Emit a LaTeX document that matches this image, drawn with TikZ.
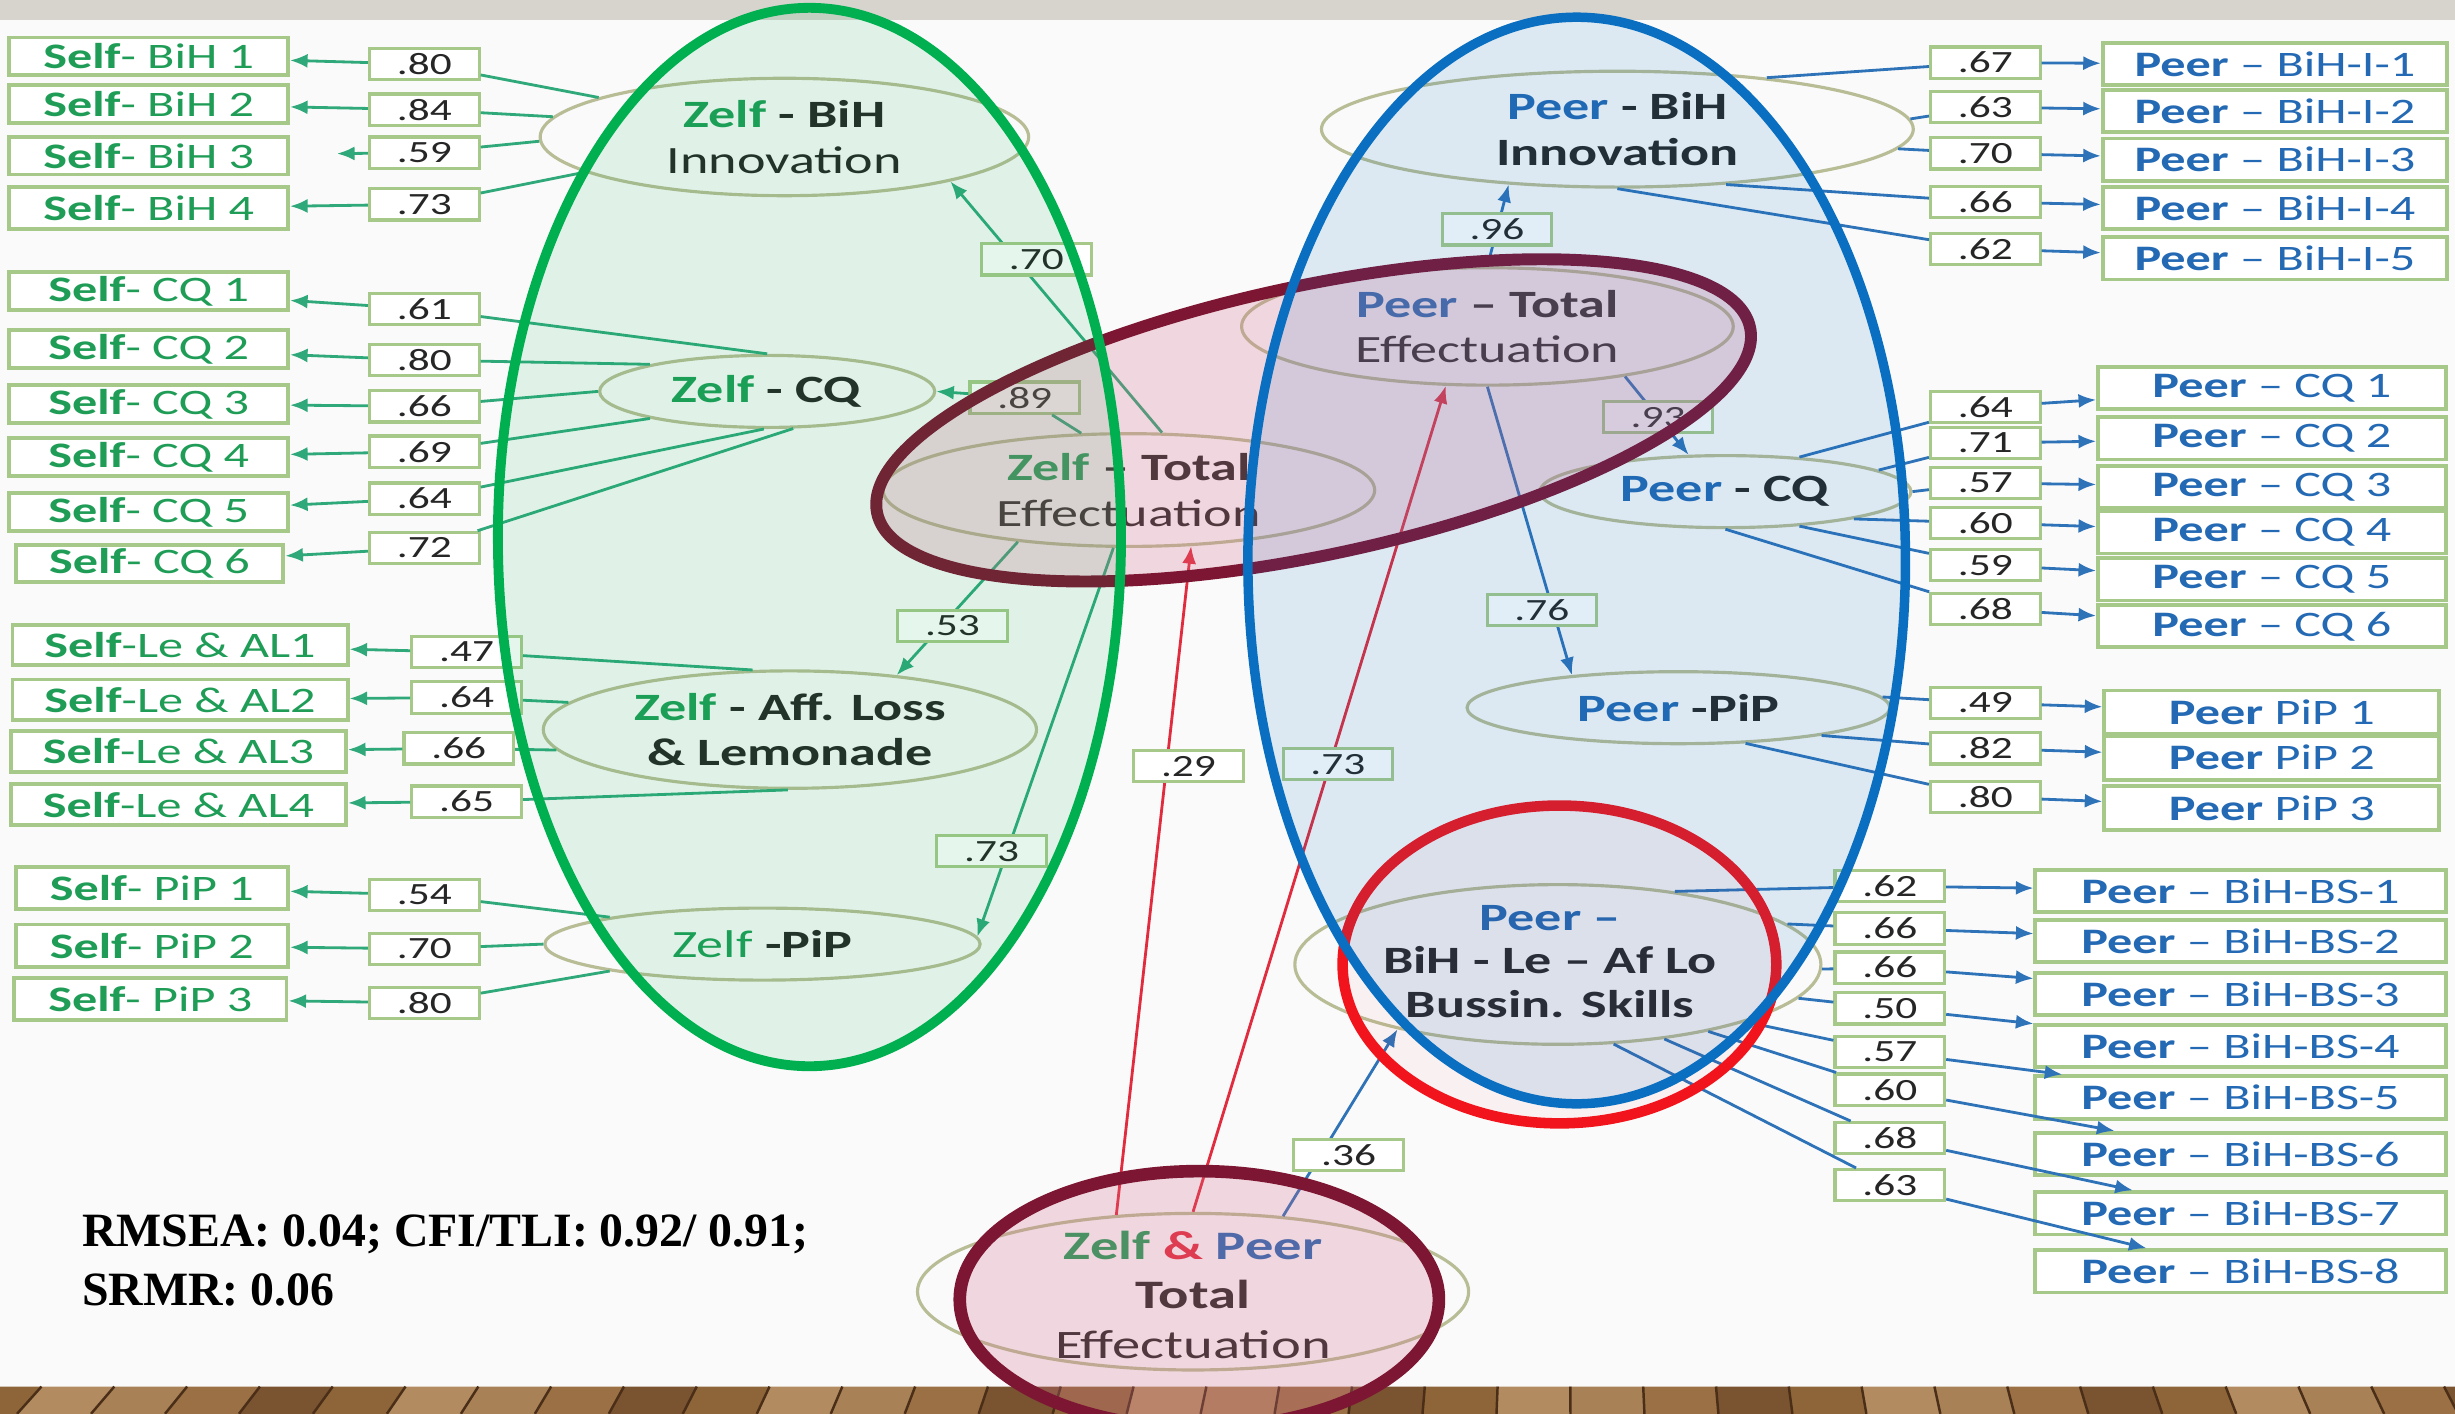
\documentclass[tikz,border=0pt]{standalone}
\usepackage{fontspec}
\setmainfont{Carlito}[FakeStretch=1.4]
\newfontfamily\fitfont{Liberation Serif}
\usetikzlibrary{shapes.geometric,arrows.meta}
\definecolor{zg}{HTML}{1F9D57}
\definecolor{pb}{HTML}{2469B3}
\definecolor{gl}{HTML}{2FA87A}
\definecolor{bl}{HTML}{2E72B8}
\definecolor{rl}{HTML}{E02C3E}
\definecolor{bx}{HTML}{A6C98A}
\definecolor{el}{HTML}{B8BD95}
\definecolor{dk}{HTML}{262626}
\definecolor{dred}{HTML}{7D1633}
\definecolor{bred}{HTML}{F2141C}
\definecolor{ovg}{HTML}{00B050}
\definecolor{ovb}{HTML}{0A6FC0}
\definecolor{pinkf}{HTML}{D56E8C}
\definecolor{bgc}{HTML}{FAFAFA}
\definecolor{band}{HTML}{D7D4CE}
\definecolor{wood0}{HTML}{8E6538}
\definecolor{wood1}{HTML}{A88156}
\definecolor{wood2}{HTML}{7A5330}
\definecolor{wood3}{HTML}{B28C60}
\definecolor{wood4}{HTML}{9A7044}
\definecolor{wooddk}{HTML}{4A2E18}
\newcommand{\pxu}{0.015657cm}
\newcommand{\selfl}[1]{\textcolor{zg}{\textbf{Self}-#1}}
\newcommand{\peerl}[1]{\textcolor{pb}{\textbf{Peer}#1}}
\begin{document}
\begin{tikzpicture}[x=0.015657cm,y=-0.015657cm,
 ind/.style={draw=bx,line width=1.1pt,fill=white,inner sep=0pt,minimum height=24*\pxu,font=\fontsize{10.2}{12}\selectfont},
 val/.style={draw=bx,line width=0.9pt,fill=white,inner sep=0pt,minimum width=70*\pxu,minimum height=20*\pxu,font=\fontsize{8.8}{10}\selectfont,text=dk},
 lat/.style={ellipse,draw=el,line width=0.9pt,fill=bgc,inner sep=0pt},
 ltx/.style={align=center,inner sep=0pt,font=\fontsize{11}{13}\selectfont,text=dk},
 garr/.style={draw=gl,line width=0.8pt,-{Latex[length=5pt,width=4pt]}},
 barr/.style={draw=bl,line width=0.8pt,-{Latex[length=5pt,width=4pt]}},
 rarr/.style={draw=rl,line width=0.8pt,-{Latex[length=5pt,width=4pt]}}
]
\useasboundingbox (0,0) rectangle (1568,903);
\clip (0,0) rectangle (1568,903);
\fill[bgc] (0,0) rectangle (1568,903);
\fill[band] (0,0) rectangle (1568,13);
% wooden floor
\fill[wood0] (0,885.6) rectangle (1568,903);
\foreach \i in {0,...,35} {
  \pgfmathsetmacro\xa{-20+46.5*\i}
  \pgfmathsetmacro\xb{\xa+46.5}
  \pgfmathsetmacro\xc{\xa+(\xa-1000)/1085*17.4}
  \pgfmathsetmacro\xd{\xb+(\xb-1000)/1085*17.4}
  \pgfmathtruncatemacro\k{mod(\i*3,5)}
  \fill[wood\k] (\xa,885.6) -- (\xb,885.6) -- (\xd,903) -- (\xc,903) -- cycle;
  \draw[wooddk,line width=0.7pt] (\xa,885.6) -- (\xc,903);
}

% latent variables
\node[lat,minimum width=312*\pxu,minimum height=75*\pxu] (zbih) at (501,87.5) {};
\node[lat,minimum width=214*\pxu,minimum height=46*\pxu] (zcq) at (490,250) {};
\node[lat,minimum width=314*\pxu,minimum height=72*\pxu] (ztot) at (721,313) {};
\node[lat,minimum width=315*\pxu,minimum height=75*\pxu] (zaff) at (504.5,466) {};
\node[lat,minimum width=278*\pxu,minimum height=46*\pxu] (zpip) at (487,603) {};
\node[lat,minimum width=378*\pxu,minimum height=74*\pxu] (pbih) at (1033,82.5) {};
\node[lat,minimum width=314*\pxu,minimum height=75*\pxu] (ptot) at (950,208.5) {};
\node[lat,minimum width=237*\pxu,minimum height=46*\pxu] (pcq) at (1102,314) {};
\node[lat,minimum width=270*\pxu,minimum height=46*\pxu] (ppip) at (1072,452) {};
\node[lat,minimum width=336*\pxu,minimum height=102*\pxu] (pbs) at (995,616) {};
\node[lat,minimum width=352*\pxu,minimum height=100*\pxu] (zp) at (762,825) {};

\node[ltx] (zbiht) at (zbih) {\textbf{\textcolor{zg}{Zelf} - BiH}\\Innovation};
\node[ltx] (zcqt) at (zcq) {\textbf{\textcolor{zg}{Zelf} - CQ}};
\node[ltx] (ztott) at (ztot) {\textbf{\textcolor{zg}{Zelf} -- Total}\\Effectuation};
\node[ltx] (zafft) at (zaff) {\textbf{\textcolor{zg}{Zelf} - Aff. Loss}\\\textbf{\& Lemonade}};
\node[ltx] (zpipt) at (zpip) {\textcolor{zg}{Zelf} \textbf{-PiP}};
\node[ltx] (pbiht) at (pbih) {\textbf{\textcolor{pb}{Peer} - BiH}\\\textbf{Innovation}};
\node[ltx] (ptott) at (ptot) {\textbf{\textcolor{pb}{Peer} -- Total}\\Effectuation};
\node[ltx] (pcqt) at (pcq) {\textbf{\textcolor{pb}{Peer} - CQ}};
\node[ltx] (ppipt) at (ppip) {\textbf{\textcolor{pb}{Peer} -PiP}};
\node[ltx,font=\fontsize{11}{12.4}\selectfont] (pbst) at (990,614) {\textbf{\textcolor{pb}{Peer --}}\\\textbf{BiH - Le -- Af Lo}\\\textbf{Bussin. Skills}};
\node[ltx,font=\fontsize{11.5}{14}\selectfont] (zpt) at (762,827) {\textbf{\textcolor{zg}{Zelf} \textcolor{rl}{\&} \textcolor{pb}{Peer}}\\\textbf{Total}\\Effectuation};

% left indicators
\node[ind,minimum width=178*\pxu] (sb1) at (95,36) {\selfl{ BiH 1}};
\node[ind,minimum width=178*\pxu] (sb2) at (95,66.5) {\selfl{ BiH 2}};
\node[ind,minimum width=178*\pxu] (sb3) at (95,99.5) {\selfl{ BiH 3}};
\node[ind,minimum width=178*\pxu,minimum height=27*\pxu] (sb4) at (95,133) {\selfl{ BiH 4}};
\node[ind,minimum width=178*\pxu] (sc1) at (95,186) {\selfl{ CQ 1}};
\node[ind,minimum width=178*\pxu] (sc2) at (95,223) {\selfl{ CQ 2}};
\node[ind,minimum width=178*\pxu] (sc3) at (95,258) {\selfl{ CQ 3}};
\node[ind,minimum width=178*\pxu] (sc4) at (95,292) {\selfl{ CQ 4}};
\node[ind,minimum width=178*\pxu] (sc5) at (95,327) {\selfl{ CQ 5}};
\node[ind,minimum width=171*\pxu] (sc6) at (95.5,360) {\selfl{ CQ 6}};
\node[ind,minimum width=214*\pxu,minimum height=26*\pxu] (sl1) at (115,412) {\selfl{Le \& AL1}};
\node[ind,minimum width=214*\pxu,minimum height=26*\pxu] (sl2) at (115,447) {\selfl{Le \& AL2}};
\node[ind,minimum width=214*\pxu,minimum height=26*\pxu] (sl3) at (114,480) {\selfl{Le \& AL3}};
\node[ind,minimum width=214*\pxu,minimum height=26*\pxu] (sl4) at (114,514) {\selfl{Le \& AL4}};
\node[ind,minimum width=174*\pxu,minimum height=27*\pxu] (sp1) at (97,567) {\selfl{ PiP 1}};
\node[ind,minimum width=174*\pxu,minimum height=27*\pxu] (sp2) at (97,604) {\selfl{ PiP 2}};
\node[ind,minimum width=174*\pxu,minimum height=27*\pxu] (sp3) at (96,638) {\selfl{ PiP 3}};

% left loadings
\node[val] (vb1) at (271,41) {.80};
\node[val] (vb2) at (271,70) {.84};
\node[val] (vb3) at (271,97.5) {.59};
\node[val] (vb4) at (271,130.5) {.73};
\node[val] (vc1) at (271,197.5) {.61};
\node[val] (vc2) at (271,230) {.80};
\node[val] (vc3) at (271,259.5) {.66};
\node[val] (vc4) at (271,288.5) {.69};
\node[val] (vc5) at (271,318.5) {.64};
\node[val] (vc6) at (271,350) {.72};
\node[val] (vl1) at (298,416.5) {.47};
\node[val] (vl2) at (298,445.5) {.64};
\node[val] (vl3) at (293,478) {.66};
\node[val] (vl4) at (298,512) {.65};
\node[val] (vp1) at (271,571.5) {.54};
\node[val] (vp2) at (271,606) {.70};
\node[val] (vp3) at (271,640.5) {.80};
\node[val] (l89) at (654.5,254) {.89};

% right indicators
\foreach \n/\y/\t in {1/41/1,2/71/2,3/102/3,4/133/4,5/165/5}
  {\node[ind,minimum width=220*\pxu,minimum height=27*\pxu] (pb\n) at (1453,\y) {\peerl{ -- BiH-I-\t}};}
\foreach \n/\y in {1/248,2/280,3/311,4/340,5/370,6/400}
  {\node[ind,minimum width=222*\pxu,minimum height=27*\pxu] (pc\n) at (1451,\y) {\peerl{ -- CQ \n}};}
\foreach \n/\y in {1/455,2/484,3/516}
  {\node[ind,minimum width=214*\pxu,minimum height=28*\pxu] (pp\n) at (1451,\y) {\peerl{ PiP \n}};}
\foreach \n/\y in {1/569,2/601,3/635,4/668,5/701,6/737,7/775,8/812}
  {\node[ind,minimum width=262*\pxu,minimum height=27*\pxu] (ps\n) at (1431,\y) {\peerl{ -- BiH-BS-\n}};}

% right loadings
\foreach \n/\y/\t in {1/40/.67,2/68.5/.63,3/98/.70,4/129/.66,5/159/.62}
  {\node[val] (wb\n) at (1268,\y) {\t};}
\foreach \n/\y/\t in {1/260/.64,2/283/.71,3/308.5/.57,4/334/.60,5/361/.59,6/389/.68}
  {\node[val] (wc\n) at (1268,\y) {\t};}
\foreach \n/\y/\t in {1/449/.49,2/478/.82,3/509/.80}
  {\node[val] (wp\n) at (1268,\y) {\t};}
\foreach \n/\y/\t in {1/566/.62,2/593/.66,3/618/.66,4/644/.50,5/672/.57,6/696/.60,7/727/.68,8/757/.63}
  {\node[val] (ws\n) at (1207,\y) {\t};}

% measurement connectors
\foreach \l/\a/\v/\s in {zbih/168/vb1/sb1,zbih/175/vb2/sb2,zbih/190/vb4/sb4,
  zcq/90/vc1/sc1,zcq/167/vc2/sc2,zcq/180/vc3/sc3,zcq/193/vc4/sc4,zcq/265/vc5/sc5,zcq/305/vc6/sc6,
  zaff/122/vl1/sl1,zaff/173/vl2/sl2,zaff/185/vl3/sl3,zaff/268/vl4/sl4,
  zpip/170/vp1/sp1,zpip/180/vp2/sp2,zpip/190/vp3/sp3}
  {\draw[garr] (\l.\a) -- (\v) -- (\s);}
\draw[garr,shorten >=30*\pxu] (zbih.181) -- (vb3) -- (sb3);
\foreach \l/\a/\v/\s in {pbih/19/wb1/pb1,pbih/2/wb2/pb2,pbih/356/wb3/pb3,pbih/333/wb4/pb4,pbih/270/wb5/pb5,
  pcq/25/wc1/pc1,pcq/8/wc2/pc2,pcq/0/wc3/pc3,pcq/348/wc4/pc4,pcq/335/wc5/pc5,pcq/270/wc6/pc6,
  ppip/3/wp1/pp1,ppip/349/wp2/pp2,ppip/332/wp3/pp3,
  pbs/32/ws1/ps1,pbs/10/ws2/ps2,pbs/359/ws3/ps3,pbs/352/ws4/ps4,pbs/343/ws5/ps5,pbs/336/ws6/ps6,pbs/325/ws7/ps7,pbs/305/ws8/ps8}
  {\draw[barr] (\l.\a) -- (\v) -- (\s);}

% structural paths
\draw[garr] (ztot.60) -- node[val,pos=0.69,xshift=13*\pxu] (l70) {.70} (zbih.345);
\draw[garr] (ztot.130) -- (l89) -- (zcq.0);
\draw[garr] (ztot.205) -- node[val,pos=0.63,xshift=7*\pxu] (l53) {.53} (zaff.27);
\draw[garr] (ztot.255) -- node[val,pos=0.78,xshift=-10*\pxu] (l73g) {.73} (zpip.2);
\draw[barr] (ptot.90) -- node[val,pos=0.45] (l96) {.96} (pbih.207);
\draw[barr] (ptot.340) -- node[val,pos=0.52] (l93) {.93} (pcq.135);
\draw[barr] (ptot.270) -- node[val,pos=0.774,xshift=-7*\pxu] (l76) {.76} (ppip.163);
\draw[rarr] (zp.135) -- node[val,pos=0.671,xshift=14*\pxu] (l29) {.29} (ztot.318);
\draw[rarr] (zp.90) -- node[val,pos=0.542,xshift=5*\pxu] (l73r) {.73} (ptot.235);
\draw[barr] (zp.40) -- node[val,pos=0.326,xshift=18*\pxu] (l36) {.36} (pbs.202);

% fit indices
\node[anchor=base west,inner sep=0pt,font=\fitfont\bfseries\fontsize{13.6}{16}\selectfont] (fit1) at (52,796) {RMSEA: 0.04; CFI/TLI: 0.92/ 0.91;};
\node[anchor=base west,inner sep=0pt,font=\fitfont\bfseries\fontsize{13.6}{16}\selectfont] (fit2) at (52,833.5) {SRMR: 0.06};

% highlight overlays
\draw[dred,line width=3.4pt,fill=pinkf,fill opacity=0.25,rotate around={12:(839,268.5)}] (839,268.5) ellipse [x radius=285, y radius=86];
\draw[bred,line width=3pt,fill=bred,fill opacity=0.04] (996,616) ellipse [x radius=138.5, y radius=101.5];
\draw[dred,line width=3.6pt,fill=pinkf,fill opacity=0.25] (766,830) ellipse [x radius=153, y radius=82];
\draw[ovg,line width=2.8pt,fill=ovg,fill opacity=0.1] (517,343) ellipse [x radius=199, y radius=338];
\draw[ovb,line width=2.7pt,fill=ovb,fill opacity=0.12] (1007,358) ellipse [x radius=210, y radius=347];
\end{tikzpicture}
\end{document}
